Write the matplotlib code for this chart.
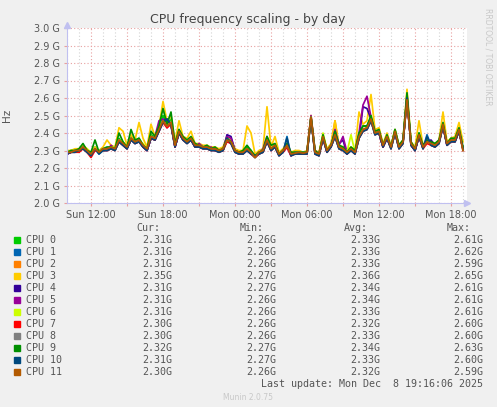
import pandas as pd
import matplotlib.pyplot as plt
import matplotlib.dates as mdates
from matplotlib.ticker import FuncFormatter

# data (MHz), one point every 20 minutes from Sun 10:00
cpu0 = [2290, 2290, 2300, 2300, 2330, 2300, 2280, 2320, 2290, 2300,
        2310, 2320, 2310, 2370, 2340, 2320, 2380, 2350, 2370, 2330,
        2310, 2390, 2370, 2430, 2500, 2450, 2480, 2330, 2420, 2370,
        2350, 2370, 2330, 2330, 2320, 2320, 2310, 2310, 2300, 2300,
        2360, 2350, 2300, 2280, 2290, 2320, 2300, 2260, 2290, 2300,
        2360, 2320, 2330, 2280, 2300, 2340, 2280, 2290, 2290, 2290,
        2290, 2480, 2290, 2280, 2380, 2300, 2330, 2390, 2320, 2310,
        2290, 2310, 2290, 2390, 2440, 2440, 2490, 2400, 2410, 2330,
        2380, 2320, 2420, 2320, 2350, 2610, 2340, 2300, 2400, 2320,
        2350, 2340, 2330, 2350, 2450, 2340, 2370, 2360, 2420, 2310]
cpu1 = [2280, 2290, 2290, 2300, 2310, 2290, 2270, 2310, 2280, 2300,
        2300, 2310, 2300, 2350, 2330, 2310, 2360, 2340, 2350, 2320,
        2300, 2370, 2360, 2420, 2480, 2470, 2450, 2320, 2400, 2360,
        2340, 2360, 2320, 2320, 2310, 2310, 2300, 2300, 2290, 2300,
        2360, 2340, 2290, 2280, 2280, 2300, 2280, 2260, 2280, 2290,
        2360, 2300, 2320, 2270, 2290, 2380, 2270, 2280, 2280, 2280,
        2280, 2480, 2280, 2270, 2370, 2290, 2320, 2380, 2310, 2300,
        2280, 2300, 2280, 2370, 2410, 2420, 2470, 2390, 2400, 2320,
        2370, 2310, 2400, 2310, 2340, 2620, 2330, 2300, 2380, 2310,
        2390, 2330, 2320, 2340, 2440, 2330, 2350, 2350, 2410, 2310]
cpu2 = [2290, 2300, 2300, 2300, 2320, 2300, 2280, 2310, 2290, 2310,
        2310, 2320, 2310, 2360, 2340, 2320, 2370, 2350, 2360, 2330,
        2310, 2380, 2370, 2420, 2470, 2440, 2460, 2330, 2410, 2370,
        2350, 2370, 2330, 2330, 2320, 2320, 2310, 2310, 2300, 2310,
        2360, 2350, 2300, 2290, 2290, 2310, 2290, 2270, 2290, 2300,
        2360, 2310, 2330, 2280, 2300, 2330, 2280, 2285, 2290, 2285,
        2290, 2490, 2290, 2280, 2380, 2300, 2330, 2470, 2320, 2310,
        2290, 2310, 2290, 2380, 2420, 2430, 2480, 2400, 2410, 2330,
        2380, 2320, 2410, 2320, 2350, 2590, 2340, 2310, 2390, 2320,
        2350, 2340, 2330, 2350, 2450, 2340, 2360, 2360, 2420, 2310]
cpu3 = [2300, 2300, 2310, 2310, 2330, 2310, 2290, 2320, 2300, 2320,
        2360, 2330, 2320, 2430, 2410, 2330, 2390, 2360, 2460, 2370,
        2320, 2450, 2380, 2440, 2580, 2470, 2500, 2350, 2470, 2380,
        2370, 2410, 2340, 2340, 2330, 2330, 2320, 2320, 2310, 2320,
        2380, 2360, 2310, 2300, 2300, 2440, 2400, 2280, 2300, 2310,
        2550, 2320, 2380, 2290, 2310, 2340, 2290, 2300, 2300, 2290,
        2300, 2500, 2300, 2290, 2390, 2310, 2340, 2470, 2330, 2320,
        2300, 2320, 2300, 2520, 2450, 2470, 2620, 2420, 2430, 2340,
        2400, 2330, 2420, 2330, 2360, 2650, 2350, 2320, 2470, 2330,
        2360, 2350, 2340, 2360, 2520, 2350, 2370, 2380, 2460, 2350]
cpu4 = [2280, 2290, 2300, 2290, 2320, 2300, 2280, 2310, 2290, 2300,
        2310, 2310, 2320, 2350, 2330, 2310, 2370, 2340, 2360, 2320,
        2300, 2370, 2360, 2410, 2470, 2480, 2440, 2320, 2400, 2370,
        2350, 2360, 2330, 2330, 2320, 2310, 2310, 2310, 2300, 2300,
        2390, 2380, 2300, 2290, 2290, 2300, 2290, 2270, 2280, 2300,
        2350, 2310, 2320, 2280, 2290, 2320, 2280, 2290, 2290, 2280,
        2290, 2490, 2290, 2280, 2370, 2290, 2330, 2400, 2340, 2360,
        2280, 2310, 2290, 2370, 2550, 2540, 2480, 2400, 2400, 2320,
        2370, 2320, 2410, 2320, 2350, 2610, 2330, 2300, 2380, 2320,
        2350, 2360, 2330, 2350, 2440, 2330, 2360, 2350, 2410, 2310]
cpu5 = [2280, 2290, 2300, 2300, 2310, 2300, 2280, 2300, 2300, 2310,
        2300, 2330, 2310, 2350, 2340, 2320, 2360, 2350, 2350, 2330,
        2300, 2370, 2380, 2470, 2480, 2430, 2460, 2320, 2400, 2360,
        2350, 2360, 2320, 2340, 2320, 2310, 2320, 2300, 2300, 2300,
        2380, 2370, 2300, 2280, 2290, 2300, 2290, 2270, 2280, 2310,
        2380, 2300, 2330, 2280, 2300, 2320, 2270, 2290, 2290, 2280,
        2290, 2500, 2300, 2280, 2370, 2300, 2320, 2420, 2330, 2380,
        2290, 2310, 2290, 2400, 2560, 2610, 2490, 2400, 2400, 2320,
        2370, 2320, 2400, 2320, 2350, 2580, 2340, 2300, 2380, 2320,
        2350, 2350, 2330, 2350, 2440, 2330, 2360, 2360, 2410, 2310]
cpu6 = [2290, 2300, 2300, 2300, 2320, 2310, 2280, 2310, 2300, 2310,
        2310, 2320, 2320, 2360, 2350, 2320, 2370, 2350, 2360, 2340,
        2310, 2380, 2370, 2430, 2470, 2440, 2460, 2330, 2410, 2370,
        2350, 2370, 2340, 2330, 2320, 2320, 2310, 2310, 2300, 2310,
        2360, 2350, 2300, 2290, 2300, 2310, 2290, 2270, 2290, 2300,
        2360, 2310, 2330, 2280, 2300, 2330, 2280, 2290, 2290, 2290,
        2290, 2490, 2290, 2280, 2400, 2300, 2330, 2390, 2320, 2310,
        2290, 2390, 2290, 2380, 2420, 2430, 2480, 2400, 2410, 2330,
        2380, 2320, 2410, 2320, 2350, 2610, 2340, 2310, 2390, 2320,
        2350, 2340, 2330, 2350, 2450, 2340, 2360, 2360, 2420, 2310]
cpu7 = [2280, 2290, 2290, 2290, 2310, 2290, 2260, 2300, 2290, 2300,
        2300, 2310, 2300, 2350, 2330, 2310, 2360, 2340, 2350, 2320,
        2300, 2370, 2360, 2410, 2460, 2430, 2450, 2320, 2400, 2360,
        2340, 2360, 2320, 2320, 2310, 2310, 2300, 2300, 2290, 2300,
        2350, 2340, 2290, 2280, 2280, 2300, 2280, 2260, 2280, 2290,
        2350, 2300, 2320, 2270, 2290, 2320, 2270, 2280, 2280, 2280,
        2280, 2480, 2280, 2270, 2370, 2290, 2320, 2380, 2310, 2300,
        2280, 2300, 2280, 2370, 2410, 2420, 2470, 2390, 2400, 2320,
        2370, 2310, 2400, 2310, 2340, 2600, 2330, 2300, 2380, 2310,
        2340, 2330, 2320, 2340, 2440, 2330, 2350, 2350, 2410, 2300]
cpu8 = [2290, 2290, 2300, 2300, 2320, 2300, 2280, 2310, 2290, 2310,
        2310, 2320, 2310, 2360, 2340, 2320, 2370, 2350, 2360, 2330,
        2310, 2380, 2370, 2420, 2470, 2440, 2460, 2330, 2410, 2370,
        2350, 2370, 2330, 2330, 2320, 2320, 2310, 2310, 2300, 2310,
        2360, 2350, 2300, 2290, 2290, 2310, 2290, 2260, 2290, 2300,
        2360, 2310, 2330, 2280, 2300, 2330, 2280, 2290, 2290, 2290,
        2290, 2490, 2290, 2280, 2380, 2300, 2330, 2390, 2320, 2310,
        2290, 2310, 2290, 2380, 2420, 2430, 2480, 2400, 2410, 2330,
        2380, 2320, 2410, 2320, 2350, 2600, 2340, 2310, 2390, 2320,
        2350, 2340, 2330, 2350, 2450, 2340, 2360, 2360, 2420, 2300]
cpu9 = [2290, 2300, 2300, 2310, 2340, 2300, 2290, 2360, 2290, 2310,
        2320, 2320, 2310, 2400, 2350, 2320, 2420, 2360, 2370, 2330,
        2310, 2410, 2380, 2440, 2540, 2450, 2520, 2340, 2420, 2380,
        2360, 2380, 2340, 2330, 2320, 2330, 2310, 2320, 2300, 2310,
        2370, 2350, 2300, 2290, 2300, 2330, 2300, 2270, 2290, 2300,
        2380, 2330, 2340, 2280, 2300, 2340, 2290, 2290, 2290, 2290,
        2290, 2490, 2300, 2280, 2390, 2300, 2330, 2410, 2330, 2320,
        2290, 2320, 2300, 2400, 2440, 2440, 2500, 2410, 2420, 2330,
        2390, 2320, 2420, 2330, 2360, 2630, 2350, 2310, 2400, 2330,
        2360, 2350, 2340, 2360, 2460, 2340, 2370, 2370, 2430, 2320]
cpu10 = [2280, 2290, 2290, 2300, 2310, 2290, 2270, 2310, 2280, 2300,
         2300, 2310, 2300, 2350, 2330, 2310, 2360, 2340, 2350, 2320,
         2300, 2370, 2360, 2410, 2460, 2480, 2450, 2320, 2400, 2360,
         2340, 2360, 2320, 2320, 2310, 2310, 2300, 2300, 2290, 2300,
         2370, 2340, 2290, 2280, 2280, 2300, 2280, 2270, 2280, 2290,
         2350, 2300, 2320, 2270, 2290, 2370, 2270, 2280, 2280, 2280,
         2280, 2480, 2280, 2270, 2370, 2290, 2320, 2380, 2310, 2300,
         2280, 2300, 2280, 2370, 2410, 2420, 2470, 2390, 2400, 2320,
         2370, 2310, 2400, 2310, 2340, 2600, 2330, 2300, 2380, 2310,
         2380, 2330, 2320, 2340, 2440, 2330, 2350, 2350, 2410, 2310]
cpu11 = [2290, 2290, 2300, 2300, 2320, 2300, 2280, 2310, 2290, 2310,
         2310, 2320, 2310, 2360, 2340, 2320, 2370, 2350, 2360, 2330,
         2310, 2380, 2370, 2420, 2470, 2440, 2460, 2330, 2410, 2370,
         2350, 2370, 2330, 2330, 2320, 2320, 2310, 2310, 2300, 2310,
         2360, 2350, 2300, 2290, 2290, 2310, 2290, 2260, 2290, 2300,
         2360, 2310, 2330, 2280, 2300, 2330, 2280, 2285, 2290, 2285,
         2290, 2490, 2290, 2280, 2380, 2300, 2330, 2390, 2320, 2310,
         2290, 2310, 2290, 2380, 2420, 2430, 2480, 2400, 2410, 2330,
         2380, 2320, 2410, 2320, 2350, 2590, 2340, 2310, 2390, 2320,
         2350, 2340, 2330, 2350, 2450, 2340, 2360, 2360, 2420, 2300]

series = [cpu0, cpu1, cpu2, cpu3, cpu4, cpu5, cpu6, cpu7, cpu8, cpu9, cpu10, cpu11]
labels = [f"CPU {i}" for i in range(12)]
colors = ["#00cc00", "#0066b3", "#ff8000", "#ffcc00", "#330099", "#990099",
          "#ccff00", "#ff0000", "#808080", "#008f00", "#00487d", "#b35a00"]

cur = ["2.31G", "2.31G", "2.31G", "2.35G", "2.31G", "2.31G",
       "2.31G", "2.30G", "2.30G", "2.32G", "2.31G", "2.30G"]
mins = ["2.26G", "2.26G", "2.26G", "2.27G", "2.27G", "2.26G",
        "2.26G", "2.26G", "2.26G", "2.27G", "2.27G", "2.26G"]
avgs = ["2.33G", "2.33G", "2.33G", "2.36G", "2.34G", "2.34G",
        "2.33G", "2.32G", "2.33G", "2.34G", "2.33G", "2.32G"]
maxs = ["2.61G", "2.62G", "2.59G", "2.65G", "2.61G", "2.61G",
        "2.61G", "2.60G", "2.60G", "2.63G", "2.60G", "2.59G"]

times = pd.date_range("2025-12-07 10:00", periods=len(cpu0), freq="20min")

text_col = "#555555"
grid_major = "#e8a0a0"
grid_minor = "#d4d4d4"
axis_col = "#c0c0f0"

fig = plt.figure(figsize=(4.97, 4.07), dpi=100, facecolor="#f0f0f0")
W, H = 497, 407
ax = fig.add_axes([67 / W, 1 - 203 / H, 400 / W, 175 / H])
ax.set_facecolor("white")

for vals, col in zip(series, colors):
    ax.plot(times, [v / 1000 for v in vals], color=col, lw=1.25)

ax.set_xlim(pd.Timestamp("2025-12-07 10:00"), pd.Timestamp("2025-12-08 19:20"))
ax.set_ylim(2.0, 3.0)

ax.set_yticks([2.0 + 0.1 * k for k in range(11)])
ax.yaxis.set_major_formatter(FuncFormatter(lambda v, p: f"{v:.1f} G"))

ax.xaxis.set_major_locator(mdates.HourLocator(byhour=range(0, 24, 3)))
ax.xaxis.set_minor_locator(mdates.HourLocator())
ax.xaxis.set_major_formatter(
    FuncFormatter(lambda v, p: mdates.num2date(v).strftime("%a %H:%M")
                  if mdates.num2date(v).hour % 6 == 0 else "")
)

ax.grid(which="major", axis="both", color=grid_major, ls=(0, (1, 2)), lw=0.8)
ax.grid(which="minor", axis="x", color=grid_minor, ls=(0, (1, 2)), lw=0.8)
ax.set_axisbelow(True)

ax.tick_params(axis="both", which="major", length=2, color=grid_major,
               labelsize=7, labelcolor=text_col, pad=3)
ax.tick_params(axis="x", which="minor", length=0)

for s in ["top", "right"]:
    ax.spines[s].set_visible(False)
for s in ["left", "bottom"]:
    ax.spines[s].set_color(axis_col)
    ax.spines[s].set_linewidth(0.8)

# axis arrows
ax.plot([1.0], [0], marker=">", ms=4, color=axis_col, transform=ax.transAxes, clip_on=False)
ax.plot([0], [1.02], marker="^", ms=4, color=axis_col, transform=ax.transAxes, clip_on=False)

ax.set_ylabel("Hz", fontsize=7.5, color=text_col, labelpad=16)

fig.text(248 / W, 1 - 19 / H, "CPU frequency scaling - by day",
         ha="center", va="center", fontsize=9, color="#444444")
fig.text(488 / W, 1 - 8 / H, "RRDTOOL / TOBI OETIKER", rotation=270,
         ha="center", va="top", fontsize=5.5, color="#c8c8c8")

# legend block
mono = "DejaVu Sans Mono"
fs = 7.2
head_y = 228
for txt, xr in [("Cur:", 160), ("Min:", 264), ("Avg:", 368), ("Max:", 471)]:
    fig.text(xr / W, 1 - head_y / H, txt, ha="right", va="center",
             family=mono, fontsize=fs, color=text_col)

for i in range(12):
    y = 1 - (240 + 12 * i) / H
    fig.patches.append(plt.Rectangle((14 / W, y - 3 / H), 6 / W, 6 / H,
                                     color=colors[i], transform=fig.transFigure))
    fig.text(26 / W, y, labels[i], ha="left", va="center",
             family=mono, fontsize=fs, color=text_col)
    for val, xr in [(cur[i], 172), (mins[i], 276), (avgs[i], 380), (maxs[i], 483)]:
        fig.text(xr / W, y, val, ha="right", va="center",
                 family=mono, fontsize=fs, color=text_col)

fig.text(483 / W, 1 - 384 / H, "Last update: Mon Dec  8 19:16:06 2025",
         ha="right", va="center", family=mono, fontsize=fs, color=text_col)
fig.text(248 / W, 1 - 397 / H, "Munin 2.0.75", ha="center", va="center",
         fontsize=5.5, color="#c8c8c8")

fig.savefig("out.png", dpi=100, facecolor=fig.get_facecolor())
